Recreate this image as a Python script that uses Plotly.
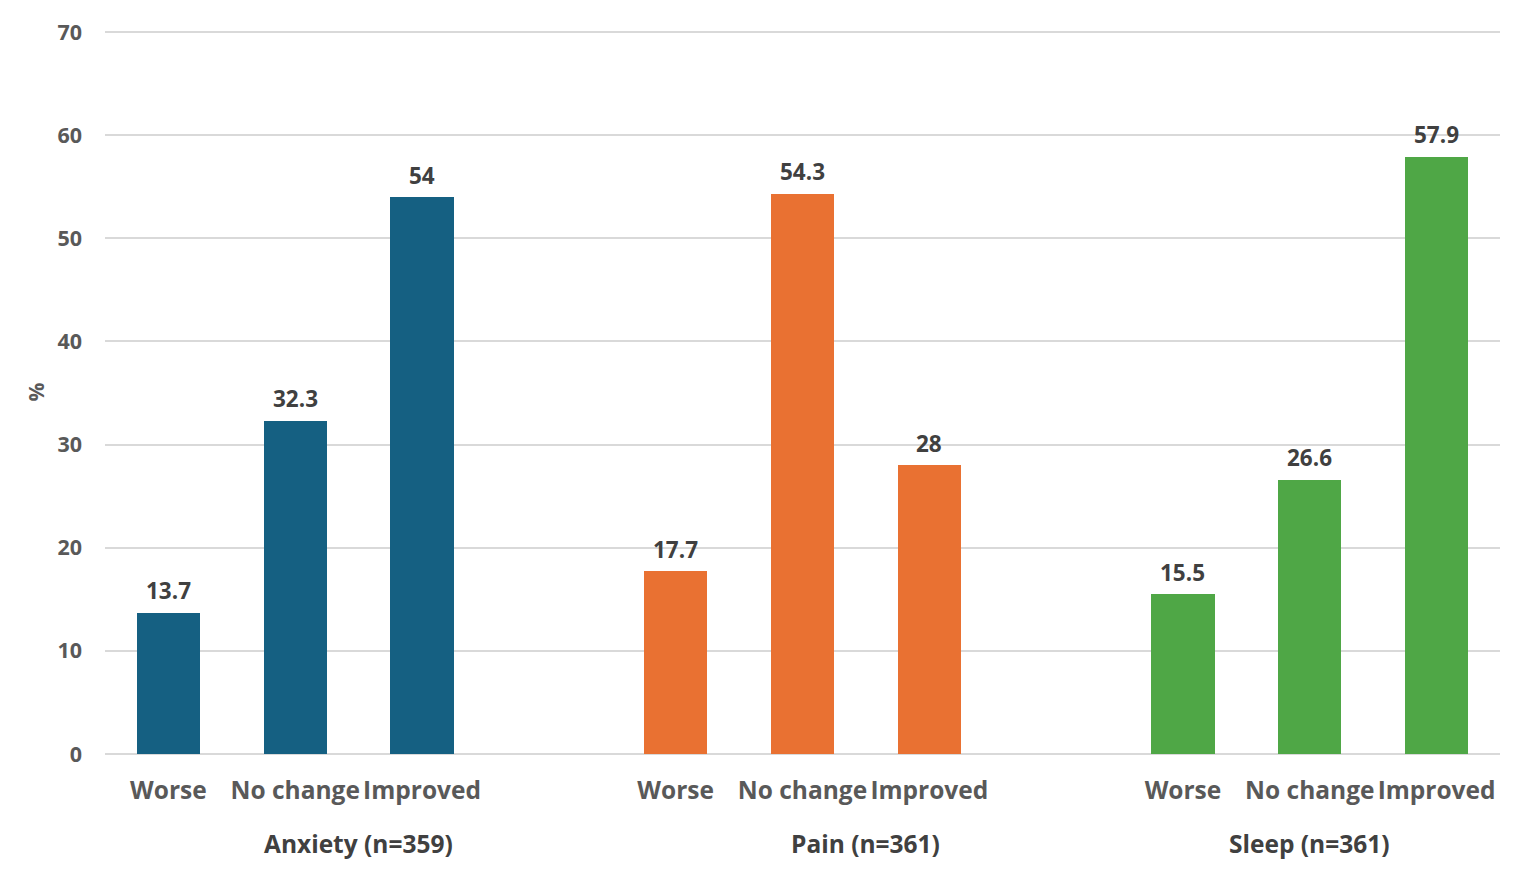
import plotly.graph_objects as go

groups = ["Anxiety (n=359)", "Pain (n=361)", "Sleep (n=361)"]
subcats = ["Worse", "No change", "Improved"]
anxiety = [13.7, 32.3, 54]
pain = [17.7, 54.3, 28]
sleep = [15.5, 26.6, 57.9]
colors = ["#156082", "#E97132", "#4FA746"]
y_ticks = [0, 10, 20, 30, 40, 50, 60, 70]

series = [anxiety, pain, sleep]
FONT = "Open Sans"

fig = go.Figure()
tickvals, ticktext = [], []
for gi, (g, vals, col) in enumerate(zip(groups, series, colors)):
    xs = [gi * 4 + i for i in range(3)]
    tickvals += xs
    ticktext += subcats
    fig.add_trace(go.Bar(
        x=xs, y=vals, width=0.5, marker=dict(color=col, line=dict(width=0)),
        name=g, showlegend=False,
    ))
    for x, v in zip(xs, vals):
        fig.add_annotation(x=x, y=v, xref="x", yref="y", text=f"{v:g}",
                           showarrow=False, yanchor="middle", yshift=22,
                           font=dict(family=FONT, size=22.5, color="#404040", weight="bold"))
    # group label spans its categories plus the following empty slot (none after the last group)
    span_end = xs[-1] + (1 if gi < len(groups) - 1 else 0)
    fig.add_annotation(x=(xs[0] + span_end) / 2, y=0, xref="x", yref="y", text=g,
                       showarrow=False, yshift=-89, yanchor="middle",
                       font=dict(family=FONT, size=24.5, color="#404040", weight="bold"))

fig.update_layout(
    width=1516, height=867,
    margin=dict(l=97, r=24, t=22, b=121),
    plot_bgcolor="white", paper_bgcolor="white",
    bargap=0,
    xaxis=dict(range=[-0.5, 10.5], tickvals=tickvals, ticktext=ticktext,
               showgrid=False, zeroline=False, showline=False,
               ticks="", ticklabelstandoff=19, tickangle=0, automargin=False,
               tickfont=dict(family=FONT, size=24.5, color="#595959", weight="bold")),
    yaxis=dict(range=[0, 70.2], tickvals=y_ticks, showgrid=True,
               gridcolor="#d9d9d9", gridwidth=1.5, automargin=False,
               zeroline=True, zerolinecolor="#d9d9d9", zerolinewidth=1.5,
               showline=False, ticks="", ticklabelstandoff=22,
               tickfont=dict(family=FONT, size=21.5, color="#595959", weight="bold"),
               title=dict(text="%", standoff=7,
                          font=dict(family=FONT, size=21, color="#595959", weight="bold"))),
)

fig.write_html("out.html")
